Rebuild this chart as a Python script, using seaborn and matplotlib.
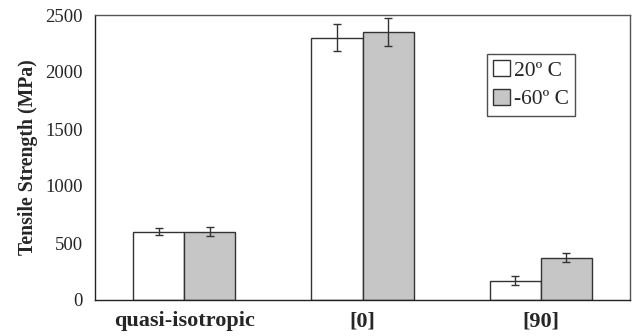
import matplotlib
matplotlib.use("Agg")
import matplotlib.pyplot as plt
import seaborn as sns
import pandas as pd
import numpy as np

categories = ["quasi-isotropic", "[0]", "[90]"]
series = ["20º C", "-60º C"]
values_20 = [600, 2300, 170]
values_m60 = [600, 2350, 370]
err_20 = [30, 120, 38]
err_m60 = [40, 122, 40]
yticks = [0, 500, 1000, 1500, 2000, 2500]

sns.set_theme(style="white")
plt.rcParams['font.family'] = ['Liberation Serif', 'DejaVu Serif']

df = pd.DataFrame({
    "cat": categories * 2,
    "series": [series[0]] * 3 + [series[1]] * 3,
    "val": values_20 + values_m60,
    "err": err_20 + err_m60,
})

fig = plt.figure(figsize=(6.34, 3.36), dpi=100)
ax = fig.add_axes([95/634, 1 - 300/336, 535/634, 285/336])

sns.barplot(data=df, x="cat", y="val", hue="series", order=categories,
            hue_order=series, palette=["white", "#c6c6c6"], edgecolor="#333333",
            linewidth=1.0, width=0.572, errorbar=None, ax=ax, legend=True)

# error bars from bar centers
for cont, errs in zip(ax.containers, [err_20, err_m60]):
    xs = [p.get_x() + p.get_width() / 2 for p in cont.patches]
    hs = [p.get_height() for p in cont.patches]
    ax.errorbar(xs, hs, yerr=errs, fmt="none", ecolor="#333333",
                elinewidth=1.0, capsize=3, capthick=1.0)

ax.set_xlim(-0.5, 2.5)
ax.set_ylim(0, 2500)
ax.set_yticks(yticks)
ax.set_yticklabels([str(t) for t in yticks], fontsize=13.5)
ax.set_xlabel("")
ax.set_ylabel("Tensile Strength (MPa)", fontsize=14.2, fontweight="bold", labelpad=5)
ax.set_xticks(range(3))
ax.set_xticklabels(categories, fontsize=16, fontweight="bold")
ax.tick_params(axis="x", length=0, pad=8)
ax.tick_params(axis="y", length=0, pad=9)
for s in ax.spines.values():
    s.set_color("#555555")
    s.set_linewidth(1.0)
ax.spines["bottom"].set_color("#222222")
ax.spines["left"].set_color("#222222")

leg = ax.legend(loc="upper left", bbox_to_anchor=((487-95)/535, (300-54)/285),
                fontsize=15.5, frameon=True, fancybox=False, edgecolor="#222222",
                handlelength=0.75, handleheight=0.75, handletextpad=0.2,
                borderpad=0.3, labelspacing=0.38, borderaxespad=0)
leg.get_frame().set_linewidth(1.0)

fig.savefig("out.png", dpi=100)
